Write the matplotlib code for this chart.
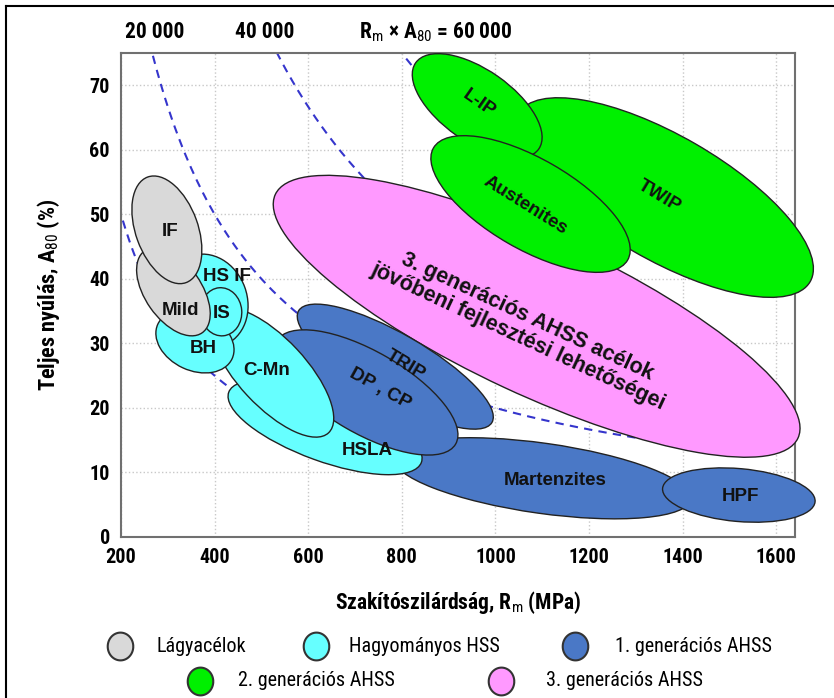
import numpy as np
import matplotlib
matplotlib.use("Agg")
import matplotlib.pyplot as plt
import matplotlib.transforms as mtransforms
from matplotlib.patches import Ellipse
from matplotlib.lines import Line2D
from matplotlib.path import Path

narrow = ['Roboto Condensed', 'IBM Plex Sans Condensed', 'Liberation Sans', 'DejaVu Sans']
plt.rcParams['font.family'] = narrow
plt.rcParams['mathtext.fontset'] = 'custom'
plt.rcParams['mathtext.rm'] = 'Roboto Condensed'
plt.rcParams['mathtext.bf'] = 'Roboto Condensed:bold'

# steel families: centre (Rm [MPa], A80 [%]), axis lengths (MPa-equivalent), tilt (deg)
steels = ['3gen', 'TWIP', 'L-IP', 'Austenites', 'Martenzites', 'HPF', 'TRIP',
          'HSLA', 'DP , CP', 'C-Mn', 'HS IF', 'BH', 'IS', 'Mild', 'IF']
group = [4, 3, 3, 3, 2, 2, 2, 1, 2, 1, 1, 1, 1, 0, 0]
rm_c = [1088, 1361, 961, 1075, 1100, 1520, 786, 636, 724, 523, 384, 358, 414, 312, 298]
a_c = [34.2, 52.6, 66.8, 51.6, 9.1, 6.5, 26.4, 17.0, 22.4, 25.5, 36.6, 30.3, 34.9, 38.0, 47.6]
major = [1232, 719, 321, 479, 642, 327, 477, 438, 441, 353, 203, 175, 103, 214, 240]
minor = [334, 265, 154, 193, 150, 113, 139, 145, 175, 145, 171, 124, 88, 120, 133]
tilt = [-25, -30, -35, -30, -8, -5, -30, -20, -30, -47, 110, -25, 95, 125, 110]

# label positions
lab_text = ['3. generációs AHSS acélok\njövőbeni fejlesztési lehetőségei', 'TWIP', 'L-IP',
            'Austenites', 'Martenzites', 'HPF', 'TRIP', 'HSLA', 'DP , CP', 'C-Mn',
            'HS IF', 'BH', 'IS', 'Mild', 'IF']
lab_rm = [1058, 1349, 964, 1064, 1128, 1524, 808, 726, 754, 512, 427, 375, 414, 328, 305]
lab_a = [32.6, 52.8, 67.1, 51.3, 8.7, 6.2, 26.6, 13.4, 23.0, 25.8, 40.3, 29.2, 34.6, 35.1, 47.4]
lab_rot = [-25, -31, -35, -32, 0, 0, -31, 0, -29, 0, 0, 0, 0, 0, 0]

group_names = ['Lágyacélok', 'Hagyományos HSS', '1. generációs AHSS',
               '2. generációs AHSS', '3. generációs AHSS']
group_colors = ['#d9d9d9', '#66ffff', '#4a78c6', '#00f000', '#ff99ff']

# Rm x A80 = const curves and how far (Rm) each is drawn
products = [10000, 20000, 40000, 60000]
curve_end = [620, 1300, 900, 900]
x_ticks = [200, 400, 600, 800, 1000, 1200, 1400, 1600]
y_ticks = [0, 10, 20, 30, 40, 50, 60, 70]

W, H = 834, 698
fig = plt.figure(figsize=(W / 100, H / 100), dpi=100)
ax = fig.add_axes([121 / W, 1 - 537 / H, 674 / W, 484 / H])
xlim = (200, 1640)
ylim = (0, 75)
ax.set_xlim(*xlim)
ax.set_ylim(*ylim)

# y stretch so that ellipse angles are given in screen space
px_x = 674 / (xlim[1] - xlim[0])
px_y = 484 / (ylim[1] - ylim[0])
k = px_y / px_x
trans = mtransforms.Affine2D().scale(1, 1 / k) + ax.transData

for i in range(len(steels)):
    e = Ellipse((rm_c[i], a_c[i] * k), major[i], minor[i], angle=tilt[i],
                facecolor=group_colors[group[i]], edgecolor='#222222', lw=1.0,
                transform=trans, zorder=3 + i * 0.1, clip_on=False)
    ax.add_patch(e)

for i, t in enumerate(lab_text):
    big = i == 0
    ax.text(lab_rm[i], lab_a[i], t, rotation=lab_rot[i], rotation_mode='anchor',
            ha='center', va='center', fontsize=15.5 if big else 13.5,
            fontweight='bold', family=['Liberation Sans', 'DejaVu Sans'],
            color='#111111', zorder=10, linespacing=1.05)

for p, end in zip(products, curve_end):
    rm = np.linspace(150, end, 300)
    ax.plot(rm, p / rm, color='#3535cc', lw=1.5, ls=(0, (4, 3)), zorder=2)

ax.set_xticks(x_ticks)
ax.set_yticks(y_ticks)
ax.set_xticklabels([str(v) for v in x_ticks], fontweight='bold', fontsize=14.5)
ax.set_yticklabels([str(v) for v in y_ticks], fontweight='bold', fontsize=14.5)
ax.tick_params(length=0, pad=8)
ax.grid(True, color='#c8c8c8', ls=':', lw=1.0, zorder=0)
ax.set_axisbelow(True)
for s in ax.spines.values():
    s.set_color('#707070')
    s.set_linewidth(1.5)

ax.set_xlabel('Szakítószilárdság, R$_\\mathrm{m}$ (MPa)', fontweight='bold', fontsize=15.5, labelpad=16)
ax.set_ylabel('Teljes nyúlás, A$_\\mathrm{80}$ (%)', fontweight='bold', fontsize=16, labelpad=20)

# product labels above the plot
top = mtransforms.blended_transform_factory(ax.transData, ax.transAxes)
ax.text(273, 1.043, '20 000', transform=top, ha='center', va='center', fontweight='bold', fontsize=15.5)
ax.text(506, 1.043, '40 000', transform=top, ha='center', va='center', fontweight='bold', fontsize=15.5)
ax.text(872, 1.043, 'R$_\\mathrm{m}$ × A$_\\mathrm{80}$ = 60 000', transform=top,
        ha='center', va='center', fontweight='bold', fontsize=15.5)

# legend, two rows
t = np.linspace(0, 2 * np.pi, 80)
oval = Path(np.column_stack([0.92 * np.cos(t), np.sin(t)]))
leg_marker_x = [120, 316, 575, 200, 501]
leg_text_x = [157, 349, 615, 238, 546]
leg_y = [646, 646, 646, 681, 681]
for i, name in enumerate(group_names):
    fig.add_artist(Line2D([leg_marker_x[i] / W], [1 - leg_y[i] / H], marker=oval,
                          markersize=20, markerfacecolor=group_colors[i],
                          markeredgecolor='#333333', markeredgewidth=1.5,
                          transform=fig.transFigure, ls='none'))
    fig.text(leg_text_x[i] / W, 1 - leg_y[i] / H, name, ha='left', va='center', fontsize=14.5)

# outer frame (left and top)
fig.add_artist(Line2D([6 / W, 6 / W], [0, 1 - 6 / H], color='black', lw=1.5, transform=fig.transFigure))
fig.add_artist(Line2D([6 / W, 1], [1 - 6 / H, 1 - 6 / H], color='black', lw=1.5, transform=fig.transFigure))

fig.savefig('out.png', dpi=100)
